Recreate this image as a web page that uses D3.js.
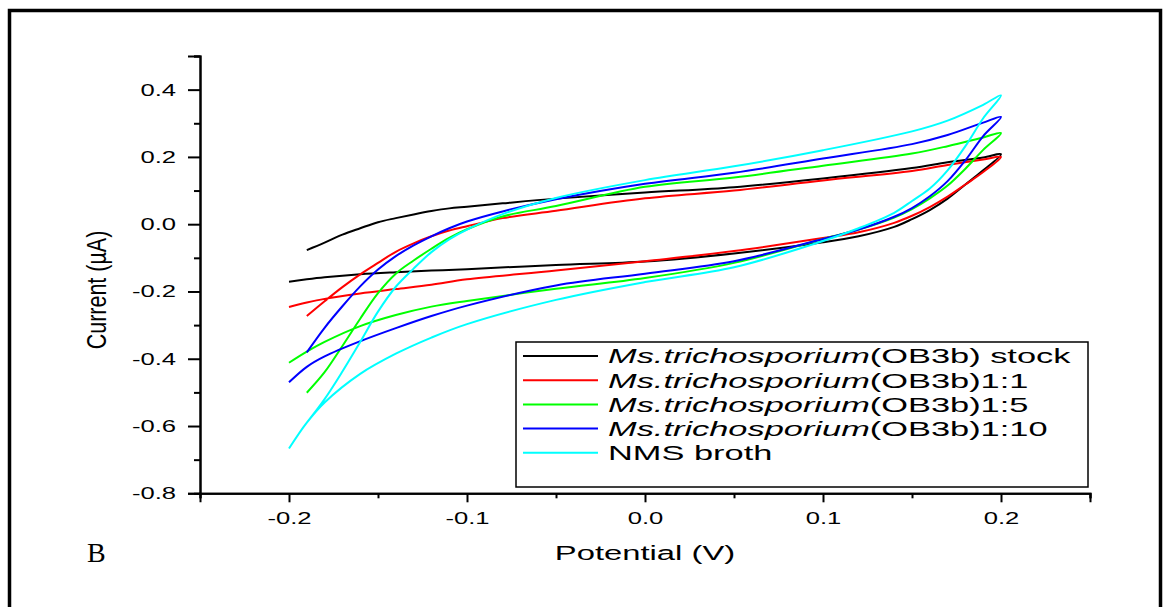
<!DOCTYPE html>
<html><head><meta charset="utf-8">
<script src="https://cdn.jsdelivr.net/npm/d3@7"></script>
<style>body{margin:0;background:#fff}svg{display:block}text{font-family:"Liberation Sans",Arial,sans-serif;fill:#000}</style>
</head><body><svg id="c" width="1165" height="607"></svg>
<script>
// ---- data ----
const upperV = [-0.19,-0.18,-0.17,-0.16,-0.15,-0.14,-0.13,-0.12,-0.11,-0.10,-0.08,-0.05,0.0,0.05,0.10,0.15,0.17,0.19,0.20];
const lowerV = [0.20,0.19,0.18,0.17,0.16,0.15,0.14,0.12,0.10,0.05,0.0,-0.05,-0.10,-0.12,-0.14,-0.16,-0.18,-0.19,-0.20];

const stockUpper = [-0.077,-0.055,-0.031,-0.012,0.006,0.018,0.029,0.039,0.047,0.052,0.062,0.076,0.094,0.110,0.136,0.167,0.184,0.198,0.208];
const stockLower = [0.208,0.160,0.118,0.076,0.042,0.015,-0.008,-0.036,-0.054,-0.087,-0.111,-0.121,-0.134,-0.138,-0.143,-0.149,-0.158,-0.164,-0.171];
const d11Upper = [-0.273,-0.229,-0.187,-0.149,-0.115,-0.082,-0.057,-0.036,-0.019,-0.006,0.018,0.040,0.077,0.100,0.130,0.158,0.176,0.192,0.200];
const d11Lower = [0.200,0.155,0.118,0.082,0.051,0.025,0.004,-0.024,-0.041,-0.080,-0.110,-0.138,-0.164,-0.180,-0.193,-0.206,-0.222,-0.233,-0.246];
const d15Upper = [-0.501,-0.440,-0.362,-0.281,-0.205,-0.147,-0.108,-0.073,-0.041,-0.015,0.023,0.054,0.111,0.139,0.174,0.210,0.232,0.258,0.271];
const d15Lower = [0.271,0.221,0.165,0.115,0.077,0.045,0.020,-0.016,-0.044,-0.115,-0.160,-0.192,-0.228,-0.245,-0.270,-0.303,-0.350,-0.379,-0.412];
const d110Upper = [-0.381,-0.308,-0.244,-0.185,-0.135,-0.095,-0.063,-0.036,-0.012,0.008,0.038,0.074,0.120,0.153,0.195,0.238,0.265,0.302,0.319];
const d110Lower = [0.319,0.262,0.190,0.128,0.083,0.048,0.022,-0.016,-0.044,-0.110,-0.147,-0.182,-0.242,-0.273,-0.309,-0.348,-0.393,-0.424,-0.470];
const nmsUpper = [-0.590,-0.520,-0.438,-0.350,-0.260,-0.186,-0.132,-0.083,-0.045,-0.016,0.030,0.078,0.131,0.172,0.220,0.276,0.308,0.355,0.383];
const nmsLower = [0.383,0.315,0.232,0.160,0.106,0.069,0.034,-0.012,-0.050,-0.128,-0.172,-0.225,-0.297,-0.337,-0.385,-0.445,-0.530,-0.590,-0.667];

const seriesItalic = ["Ms.trichosporium","Ms.trichosporium","Ms.trichosporium","Ms.trichosporium",""];
const seriesRest = ["(OB3b) stock","(OB3b)1:1","(OB3b)1:5","(OB3b)1:10","NMS broth"];
const seriesColors = ["#000000","#ff0000","#00ff00","#0000ff","#00ffff"];

const xMajor = [-0.2,-0.1,0.0,0.1,0.2];
const xMinor = [-0.25,-0.15,-0.05,0.05,0.15,0.25];
const yMajor = [-0.8,-0.6,-0.4,-0.2,0.0,0.2,0.4];
const yMinor = [-0.7,-0.5,-0.3,-0.1,0.1,0.3,0.5];

// ---- drawing ----
const svg = d3.select("#c");
const x = d3.scaleLinear().domain([-0.25,0.25]).range([200,1090]);
const y = d3.scaleLinear().domain([-0.8,0.5]).range([493.3,56]);
const SX = 1.6;
const fmt = v => d3.format(".1f")(v).replace("\u2212","-");

svg.append("rect").attr("x",9.5).attr("y",10.5).attr("width",1151).attr("height",640)
  .attr("fill","none").attr("stroke","#000").attr("stroke-width",3.5);

const series = [
  [stockUpper,stockLower],[d11Upper,d11Lower],[d15Upper,d15Lower],[d110Upper,d110Lower],[nmsUpper,nmsLower]
].map((p,i)=>({color:seriesColors[i],
  pts: upperV.map((v,j)=>[v,p[0][j]]).concat(lowerV.slice(1).map((v,j)=>[v,p[1][j+1]]))}));

const line = d3.line().x(d=>x(d[0])).y(d=>y(d[1])).curve(d3.curveCatmullRom.alpha(0.5));
svg.append("g").selectAll("path").data(series).join("path")
  .attr("d",d=>line(d.pts)).attr("fill","none").attr("stroke",d=>d.color)
  .attr("stroke-width",2).attr("stroke-linejoin","round");

// axes
function styleAxis(g){ g.select(".domain").attr("stroke","#000").attr("stroke-width",2);
  g.selectAll(".tick line").attr("stroke","#000").attr("stroke-width",2); }

const gyMinor = svg.append("g").attr("transform","translate(200,0)")
  .call(d3.axisLeft(y).tickValues(yMinor).tickSize(6).tickFormat(""));
styleAxis(gyMinor);
const gy = svg.append("g").attr("transform","translate(200,0)")
  .call(d3.axisLeft(y).tickValues(yMajor).tickSize(12).tickPadding(12).tickFormat(fmt));
styleAxis(gy);
gy.selectAll(".tick text").attr("font-size",16).attr("x",null).attr("dy","0.34em")
  .attr("transform","translate(-24,0) scale("+SX+",1)");

const gxMinor = svg.append("g").attr("transform","translate(0,493.3)")
  .call(d3.axisBottom(x).tickValues(xMinor).tickSize(5).tickFormat(""));
styleAxis(gxMinor);
const gx = svg.append("g").attr("transform","translate(0,493.3)")
  .call(d3.axisBottom(x).tickValues(xMajor).tickSize(9).tickFormat(fmt));
styleAxis(gx);
gx.selectAll(".tick text").attr("font-size",16).attr("y",null).attr("dy",null)
  .attr("transform","translate(0,30.5) scale("+SX+",1)");

// axis titles
svg.append("text").attr("text-anchor","middle").attr("font-size",21.5)
  .attr("transform","translate(106,290) scale(1.25,1) rotate(-90)").text("Current (\u00B5A)");
svg.append("text").attr("text-anchor","middle").attr("font-size",20.5)
  .attr("transform","translate(645,560) scale("+SX+",1)").text("Potential (V)");
svg.append("text").attr("x",87).attr("y",562).attr("font-size",28)
  .style("font-family","'Liberation Serif','Times New Roman',serif").text("B");

// legend
const lg = svg.append("g");
lg.append("rect").attr("x",516).attr("y",342).attr("width",572).attr("height",145)
  .attr("fill","#fff").attr("stroke","#000").attr("stroke-width",1.5);
const rows = lg.selectAll("g.row").data(series).join("g").attr("class","row")
  .attr("transform",(d,i)=>"translate(0,"+(356+i*24.2)+")");
rows.append("line").attr("x1",523).attr("x2",598).attr("stroke",d=>d.color).attr("stroke-width",2);
const tx = rows.append("text").attr("font-size",20).attr("dy",7.3)
  .attr("transform","translate(608,0) scale(1.72,1)");
tx.append("tspan").attr("font-style","italic").text((d,i)=>seriesItalic[i]);
tx.append("tspan").text((d,i)=>seriesRest[i]);
</script></body></html>
